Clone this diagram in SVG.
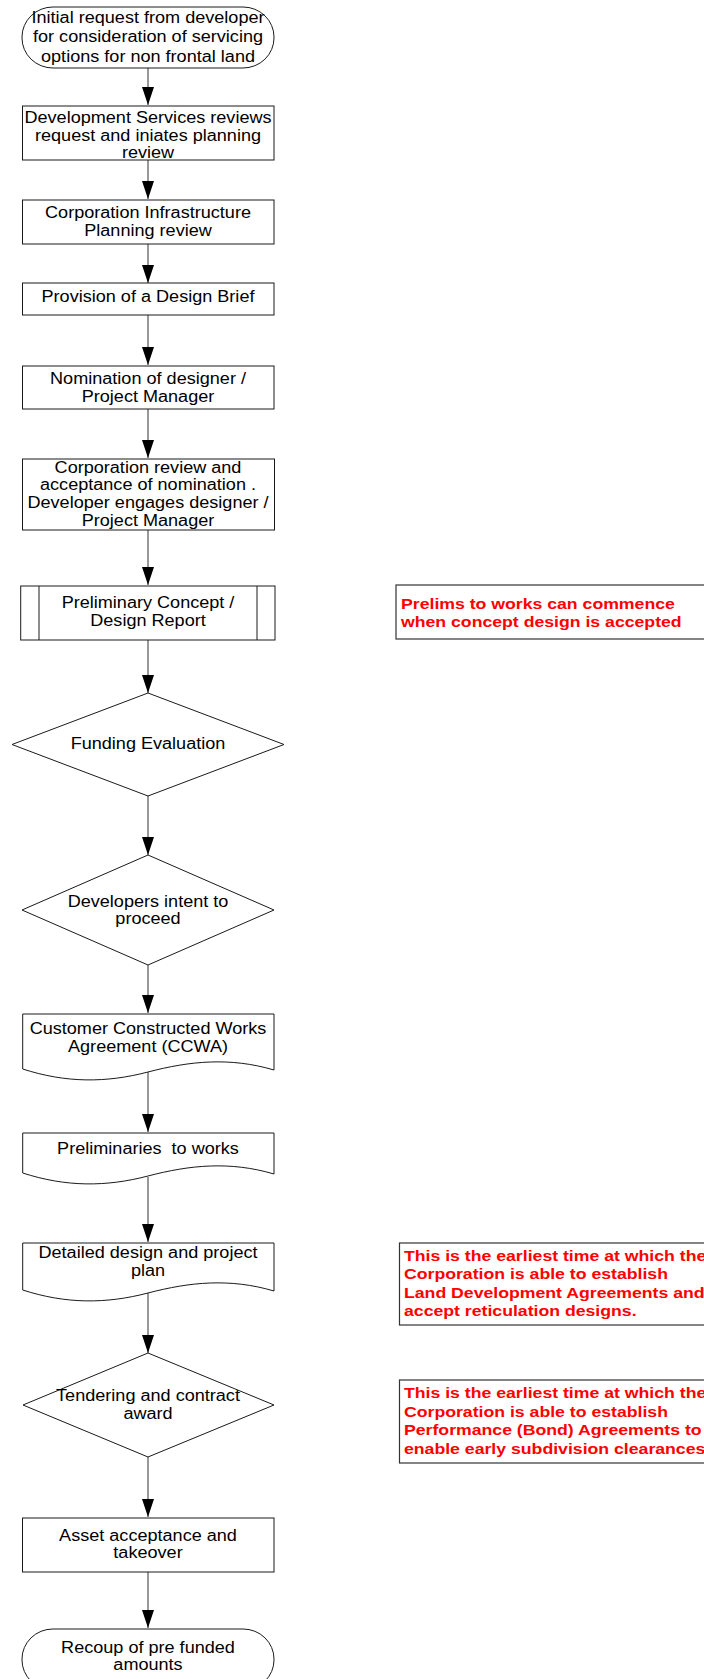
<svg xmlns="http://www.w3.org/2000/svg" width="704" height="1679" viewBox="0 0 704 1679">
<style>
.s{fill:#fff;stroke:#1a1a1a;stroke-width:1}
.c{fill:none;stroke:#333;stroke-width:1}
.t{font-family:"Liberation Sans",Arial,sans-serif;font-size:16px;fill:#000;text-anchor:middle}
.r{font-family:"Liberation Sans",Arial,sans-serif;font-size:15.5px;font-weight:bold;fill:#ff0000;text-anchor:start}
.n{fill:#fff;stroke:#333;stroke-width:1.2}
</style>
<defs>
<marker id="ah" markerUnits="userSpaceOnUse" markerWidth="18" markerHeight="12" refX="18" refY="6" orient="auto">
<path d="M0,0 L18,6 L0,12 Z" fill="#000"/>
</marker>
</defs>
<rect width="704" height="1679" fill="#fff"/>
<g id="connectors">
<line class="c" x1="148" y1="68" x2="148" y2="105" marker-end="url(#ah)"/>
<line class="c" x1="148" y1="160" x2="148" y2="199" marker-end="url(#ah)"/>
<line class="c" x1="148" y1="244" x2="148" y2="283" marker-end="url(#ah)"/>
<line class="c" x1="148" y1="315" x2="148" y2="365" marker-end="url(#ah)"/>
<line class="c" x1="148" y1="409" x2="148" y2="458" marker-end="url(#ah)"/>
<line class="c" x1="148" y1="530" x2="148" y2="585" marker-end="url(#ah)"/>
<line class="c" x1="148" y1="640" x2="148" y2="693" marker-end="url(#ah)"/>
<line class="c" x1="148" y1="796" x2="148" y2="855" marker-end="url(#ah)"/>
<line class="c" x1="148" y1="965" x2="148" y2="1013" marker-end="url(#ah)"/>
<line class="c" x1="148" y1="1072" x2="148" y2="1132" marker-end="url(#ah)"/>
<line class="c" x1="148" y1="1177" x2="148" y2="1242" marker-end="url(#ah)"/>
<line class="c" x1="148" y1="1293" x2="148" y2="1353" marker-end="url(#ah)"/>
<line class="c" x1="148" y1="1457" x2="148" y2="1517" marker-end="url(#ah)"/>
<line class="c" x1="148" y1="1572" x2="148" y2="1628" marker-end="url(#ah)"/>
</g>
<g id="start">
<rect class="s" x="22" y="7" width="252" height="61" rx="31" ry="30"/>
<text class="t" transform="translate(148 0) scale(1.13 1)"><tspan x="0" y="23">Initial request from developer</tspan><tspan x="0" y="42.5">for consideration of servicing</tspan><tspan x="0" y="62">options for non frontal land</tspan></text>
</g>
<g id="dev-services">
<rect class="s" x="22.5" y="106" width="251.5" height="54"/>
<text class="t" transform="translate(148 0) scale(1.13 1)"><tspan x="0" y="122.7">Development Services reviews</tspan><tspan x="0" y="140.7">request and iniates planning</tspan><tspan x="0" y="158.3">review</tspan></text>
</g>
<g id="infra-review">
<rect class="s" x="22.5" y="200" width="251.5" height="44"/>
<text class="t" transform="translate(148 0) scale(1.13 1)"><tspan x="0" y="218">Corporation Infrastructure</tspan><tspan x="0" y="236">Planning review</tspan></text>
</g>
<g id="design-brief">
<rect class="s" x="22.5" y="283" width="251.5" height="32"/>
<text class="t" transform="translate(148 0) scale(1.13 1)"><tspan x="0" y="302">Provision of a Design Brief</tspan></text>
</g>
<g id="nomination">
<rect class="s" x="22.5" y="366" width="251.5" height="43"/>
<text class="t" transform="translate(148 0) scale(1.13 1)"><tspan x="0" y="384">Nomination of designer /</tspan><tspan x="0" y="402">Project Manager</tspan></text>
</g>
<g id="acceptance">
<rect class="s" x="22.5" y="459" width="252" height="71"/>
<text class="t" transform="translate(148 0) scale(1.13 1)"><tspan x="0" y="473">Corporation review and</tspan><tspan x="0" y="490.5">acceptance of nomination .</tspan><tspan x="0" y="508">Developer engages designer /</tspan><tspan x="0" y="526">Project Manager</tspan></text>
</g>
<g id="concept-report">
<rect class="s" x="20.7" y="586" width="254.3" height="54"/>
<line class="s" x1="39" y1="586" x2="39" y2="640"/>
<line class="s" x1="257" y1="586" x2="257" y2="640"/>
<text class="t" transform="translate(148 0) scale(1.13 1)"><tspan x="0" y="608">Preliminary Concept /</tspan><tspan x="0" y="626">Design Report</tspan></text>
</g>
<g id="funding">
<polygon class="s" points="148,693 284,744.5 148,796 12,744.5"/>
<text class="t" transform="translate(148 0) scale(1.13 1)"><tspan x="0" y="749.5">Funding Evaluation</tspan></text>
</g>
<g id="intent">
<polygon class="s" points="148,855 274,910 148,965 22,910"/>
<text class="t" transform="translate(148 0) scale(1.13 1)"><tspan x="0" y="907">Developers intent to</tspan><tspan x="0" y="924.5">proceed</tspan></text>
</g>
<g id="ccwa">
<path class="s" d="M22.7,1014 H274 V1070 C230,1057 190,1061 148,1072 C106,1083 66,1083 22.7,1069 Z"/>
<text class="t" transform="translate(148 0) scale(1.13 1)"><tspan x="0" y="1034">Customer Constructed Works</tspan><tspan x="0" y="1052">Agreement (CCWA)</tspan></text>
</g>
<g id="prelims">
<path class="s" d="M22.7,1133 H274 V1174 C230,1161 190,1165 148,1176 C106,1187 66,1187 22.7,1173 Z"/>
<text class="t" transform="translate(148 0) scale(1.13 1)" xml:space="preserve"><tspan x="0" y="1154">Preliminaries  to works</tspan></text>
</g>
<g id="detailed-design">
<path class="s" d="M22.7,1243 H274 V1291 C230,1278 190,1282 148,1293 C106,1304 66,1304 22.7,1290 Z"/>
<text class="t" transform="translate(148 0) scale(1.13 1)"><tspan x="0" y="1258">Detailed design and project</tspan><tspan x="0" y="1276">plan</tspan></text>
</g>
<g id="tendering">
<polygon class="s" points="148,1353 274,1405 148,1457 23,1405"/>
<text class="t" transform="translate(148 0) scale(1.13 1)"><tspan x="0" y="1401">Tendering and contract</tspan><tspan x="0" y="1419">award</tspan></text>
</g>
<g id="asset">
<rect class="s" x="22.5" y="1518" width="251.5" height="54"/>
<text class="t" transform="translate(148 0) scale(1.13 1)"><tspan x="0" y="1541">Asset acceptance and</tspan><tspan x="0" y="1558">takeover</tspan></text>
</g>
<g id="end">
<rect class="s" x="22" y="1629" width="252" height="61" rx="31" ry="30"/>
<text class="t" transform="translate(148 0) scale(1.13 1)"><tspan x="0" y="1652.7">Recoup of pre funded</tspan><tspan x="0" y="1670">amounts</tspan></text>
</g>
<g id="note-prelims">
<rect class="n" x="396" y="585" width="320" height="54"/>
<text class="r" transform="translate(401 0) scale(1.14 1)"><tspan x="0" y="609">Prelims to works can commence</tspan><tspan x="0" y="627">when concept design is accepted</tspan></text>
</g>
<g id="note-land">
<rect class="n" x="399.5" y="1243" width="320" height="82"/>
<text class="r" transform="translate(404 0) scale(1.14 1)"><tspan x="0" y="1261">This is the earliest time at which the</tspan><tspan x="0" y="1279.5">Corporation is able to establish</tspan><tspan x="0" y="1298">Land Development Agreements and</tspan><tspan x="0" y="1316.5">accept reticulation designs.</tspan></text>
</g>
<g id="note-bond">
<rect class="n" x="399.5" y="1380" width="320" height="83"/>
<text class="r" transform="translate(404 0) scale(1.14 1)"><tspan x="0" y="1398">This is the earliest time at which the</tspan><tspan x="0" y="1417">Corporation is able to establish</tspan><tspan x="0" y="1435.5">Performance (Bond) Agreements to</tspan><tspan x="0" y="1454">enable early subdivision clearances</tspan></text>
</g>
</svg>
